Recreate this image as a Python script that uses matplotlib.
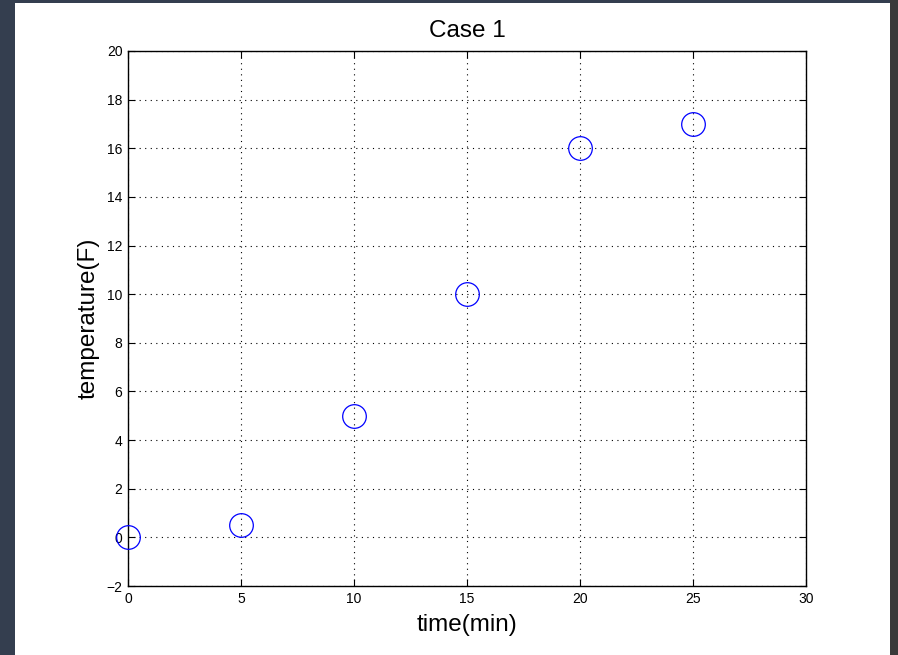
import matplotlib
matplotlib.use("Agg")
import matplotlib.pyplot as plt
from matplotlib.patches import Rectangle

time_min = [0, 5, 10, 15, 20, 25]
temperature = [0, 0.5, 5, 10, 16, 17]
xticks = [0, 5, 10, 15, 20, 25, 30]
yticks = [-2, 0, 2, 4, 6, 8, 10, 12, 14, 16, 18, 20]

plt.rcParams['font.family'] = ['Liberation Sans', 'DejaVu Sans']

fig = plt.figure(figsize=(8.98, 6.55), dpi=100, facecolor='#343e4f')
# white canvas area
fig.patches.append(Rectangle((15/898, 0), (890-15)/898, (655-3)/655,
                             transform=fig.transFigure, facecolor='white',
                             edgecolor='none', zorder=-10))
fig.patches.append(Rectangle((890/898, 0), 8/898, 1,
                             transform=fig.transFigure, facecolor='#3a3a3a',
                             edgecolor='none', zorder=-10))

ax = fig.add_axes([128/898, (655-586)/655, (806-128)/898, (586-51)/655])
ax.set_zorder(5)
ax.plot(time_min, temperature, 'o', markersize=17, markerfacecolor='none',
        markeredgecolor='blue', markeredgewidth=0.9, clip_on=False, zorder=3)
ax.set_xlim(0, 30)
ax.set_ylim(-2, 20)
ax.set_xticks(xticks)
ax.set_yticks(yticks)
ax.tick_params(direction='in', top=True, right=True, length=5, width=0.8,
               labelsize=10, pad=4)
ax.grid(True, linestyle=(0, (1, 4)), color='black', linewidth=0.8)
for s in ax.spines.values():
    s.set_linewidth(1.0)
ax.set_title('Case 1', fontsize=17.5, pad=10)
ax.set_xlabel('time(min)', fontsize=17.5, labelpad=6)
ax.set_ylabel('temperature(F)', fontsize=17.5, labelpad=5)
fig.savefig('out.png', dpi=100, facecolor=fig.get_facecolor())
